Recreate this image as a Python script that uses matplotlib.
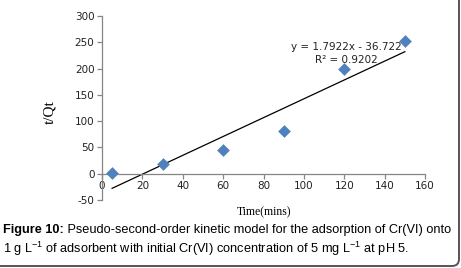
import numpy as np
import matplotlib.pyplot as plt
from matplotlib.path import Path
from matplotlib.patches import PathPatch

# data
time_min = [5, 30, 60, 90, 120, 150]
t_over_qt = [2, 18, 46, 82, 200, 252]
slope = 1.7922
intercept = -36.722
r2 = 0.9202

x_ticks = [0, 20, 40, 60, 80, 100, 120, 140, 160]
y_ticks = [-50, 0, 50, 100, 150, 200, 250, 300]

plt.rcParams['mathtext.fontset'] = 'custom'
plt.rcParams['mathtext.rm'] = 'Liberation Sans'
plt.rcParams['mathtext.it'] = 'Liberation Sans'
plt.rcParams['axes.unicode_minus'] = False

W, H = 461, 268
fig = plt.figure(figsize=(W / 100, H / 100), dpi=100)
ax = fig.add_axes([0.2213, 0.2537, 0.7007, 0.6866])

ax.scatter(time_min, t_over_qt, marker='D', s=42, color='#4F81BD', zorder=3,
           linewidths=0)
xf = np.array([time_min[0], time_min[-1]])
ax.plot(xf, slope * xf + intercept, color='black', lw=0.9, zorder=2)

ax.set_xlim(0, 160)
ax.set_ylim(-50, 300)
ax.set_xticks(x_ticks)
ax.set_yticks(y_ticks)

for s in ['top', 'right']:
    ax.spines[s].set_visible(False)
ax.spines['bottom'].set_position(('data', 0))
for s in ['left', 'bottom']:
    ax.spines[s].set_color('#868686')
    ax.spines[s].set_linewidth(0.9)
ax.tick_params(axis='both', color='#868686', length=3.5, width=0.9,
               labelsize=7.5, labelcolor='#222222', pad=2)

ax.text(121, 241, 'y = 1.7922x - 36.722', ha='center', va='center',
        fontsize=7.5, family='DejaVu Sans', color='#222222')
ax.text(121, 216, 'R² = 0.9202', ha='center', va='center',
        fontsize=7.5, family='DejaVu Sans', color='#222222')

fig.text(50 / W, 1 - 112 / H, 't/Qt', rotation=90, ha='center', va='center',
         family='Liberation Serif', fontsize=11)
fig.text(264 / W, 1 - 212 / H, 'Time(mins)', ha='center', va='center',
         family='Liberation Serif', fontsize=8.5)

# caption
t1 = fig.text(3 / W, 1 - 233 / H, 'Figure 10:', fontweight='bold',
              family='Liberation Sans', fontsize=9.2, va='baseline')
ax.annotate(' Pseudo-second-order kinetic model for the adsorption of Cr(VI) onto',
            xy=(1, 0), xycoords=t1, va='bottom', ha='left',
            family='Liberation Sans', fontsize=9.2, annotation_clip=False)
fig.text(3 / W, 1 - 253 / H,
         r'1 g L$^{-1}$ of adsorbent with initial Cr(VI) concentration of 5 mg L$^{-1}$ at pH 5.',
         family='Liberation Sans', fontsize=9.2, va='baseline')

# frame: bottom and right edges with a rounded bottom-right corner
pts = [(0, 266), (452, 266), (459, 266), (459, 259), (459, 0)]
codes = [Path.MOVETO, Path.LINETO, Path.CURVE3, Path.CURVE3, Path.LINETO]
pts = [(x / W, 1 - y / H) for x, y in pts]
fig.add_artist(PathPatch(Path(pts, codes), transform=fig.transFigure,
                         fill=False, ec='#555555', lw=1.4))

fig.savefig('out.png', dpi=100)
